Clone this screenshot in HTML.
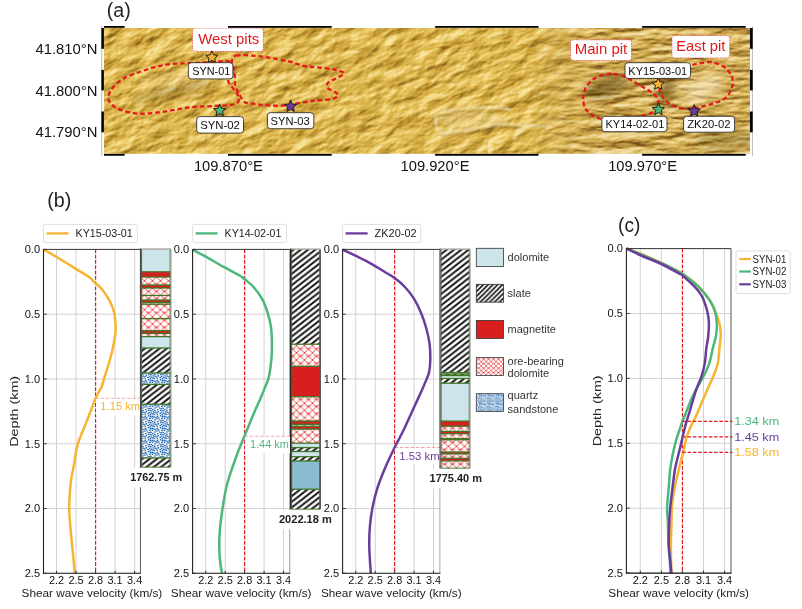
<!DOCTYPE html><html><head><meta charset="utf-8"><style>html,body{margin:0;padding:0;background:#fff;}body{width:802px;height:609px;overflow:hidden;}svg{display:block;font-family:"Liberation Sans", sans-serif;}</style></head><body>
<svg width="802" height="609" viewBox="0 0 802 609">
<defs>
<pattern id="slate" patternUnits="userSpaceOnUse" width="7.3" height="5.7"><rect width="7.3" height="5.7" fill="#fff"/><path d="M-7.3,5.7 L7.3,-5.7 M0,5.7 L7.3,0 M0,11.4 L14.6,0" stroke="#111" stroke-width="1.95"/></pattern>
<pattern id="slateL" patternUnits="userSpaceOnUse" width="4.8" height="4.8"><rect width="4.8" height="4.8" fill="#fff"/><path d="M-1.2,1.2 L1.2,-1.2 M0,4.8 L4.8,0 M3.6,6 L6,3.6" stroke="#111" stroke-width="1.55"/></pattern>
<pattern id="ore" patternUnits="userSpaceOnUse" width="8" height="7.2" x="0.5" y="0"><rect width="8" height="7.2" fill="#fff"/><path d="M0,0 L8,7.2 M8,0 L0,7.2" stroke="#e22b2b" stroke-width="0.8"/><path d="M1.2,3.6 Q4,1.2 6.8,3.6" fill="none" stroke="#e53a3a" stroke-width="0.55"/></pattern>
<pattern id="oreL" patternUnits="userSpaceOnUse" width="8" height="7.2" patternTransform="scale(0.62)"><rect width="8" height="7.2" fill="#fff"/><path d="M0,0 L8,7.2 M8,0 L0,7.2" stroke="#e22b2b" stroke-width="1"/><path d="M1.2,3.6 Q4,1.2 6.8,3.6" fill="none" stroke="#e53a3a" stroke-width="0.8"/></pattern>
<pattern id="qtz" patternUnits="userSpaceOnUse" width="12.0" height="12.0"><rect width="12.0" height="12.0" fill="#fff"/><rect x="3.89" y="1.81" width="1.68" height="1.3" fill="#2468b2"/><rect x="7.81" y="0.87" width="1.76" height="1.46" fill="#2468b2"/><rect x="6.43" y="4.39" width="1.52" height="1.39" fill="#2468b2"/><rect x="0.7" y="6.09" width="1.39" height="1.4" fill="#2468b2"/><rect x="0.84" y="1.09" width="1.69" height="1.22" fill="#2468b2"/><rect x="5.09" y="9.92" width="1.7" height="1.17" fill="#2468b2"/><rect x="10.3" y="3.48" width="1.88" height="1.37" fill="#2468b2"/><rect x="-1.7" y="3.48" width="1.88" height="1.37" fill="#2468b2"/><rect x="8.16" y="5.13" width="1.85" height="1.43" fill="#2468b2"/><rect x="3.77" y="7.03" width="1.43" height="1.47" fill="#2468b2"/><rect x="9.53" y="8.39" width="1.67" height="1.29" fill="#2468b2"/><rect x="0.47" y="8.02" width="1.72" height="1.48" fill="#2468b2"/><rect x="10.08" y="11.34" width="1.71" height="1.21" fill="#2468b2"/><rect x="10.08" y="-0.66" width="1.71" height="1.21" fill="#2468b2"/><rect x="5.69" y="7.97" width="1.88" height="1.55" fill="#2468b2"/><rect x="1.55" y="2.97" width="1.56" height="1.56" fill="#2468b2"/><rect x="3.34" y="4.98" width="1.9" height="1.27" fill="#2468b2"/><rect x="0.31" y="10.49" width="1.41" height="1.22" fill="#2468b2"/><rect x="6.34" y="11.74" width="1.59" height="1.17" fill="#2468b2"/><rect x="6.34" y="-0.26" width="1.59" height="1.17" fill="#2468b2"/><rect x="2" y="9.26" width="1.44" height="1.47" fill="#2468b2"/><rect x="10.09" y="5.75" width="1.31" height="1.41" fill="#2468b2"/><rect x="7.84" y="9.6" width="1.54" height="1.46" fill="#2468b2"/><rect x="10.08" y="1.65" width="1.46" height="1.34" fill="#2468b2"/><rect x="2.64" y="11.43" width="1.43" height="1.11" fill="#2468b2"/><rect x="2.64" y="-0.57" width="1.43" height="1.11" fill="#2468b2"/><rect x="6" y="2.13" width="1.82" height="1.28" fill="#2468b2"/><rect x="5.7" y="6.03" width="1.48" height="1.57" fill="#2468b2"/><rect x="0.03" y="4.26" width="1.52" height="1.37" fill="#2468b2"/><rect x="8.54" y="3.19" width="1.38" height="1.31" fill="#2468b2"/><rect x="7.64" y="7.63" width="1.83" height="1.51" fill="#2468b2"/><rect x="4.37" y="11.89" width="1.79" height="1.56" fill="#2468b2"/><rect x="4.37" y="-0.11" width="1.79" height="1.56" fill="#2468b2"/><rect x="4.71" y="3.75" width="1.44" height="1.13" fill="#2468b2"/><rect x="11.13" y="9.15" width="1.38" height="1.43" fill="#2468b2"/><rect x="-0.87" y="9.15" width="1.38" height="1.43" fill="#2468b2"/></pattern>
<pattern id="qtzL" patternUnits="userSpaceOnUse" width="12.0" height="12.0" patternTransform="scale(0.72)"><rect width="12.0" height="12.0" fill="#fff"/><rect x="3.89" y="1.81" width="1.68" height="1.3" fill="#2468b2"/><rect x="7.81" y="0.87" width="1.76" height="1.46" fill="#2468b2"/><rect x="6.43" y="4.39" width="1.52" height="1.39" fill="#2468b2"/><rect x="0.7" y="6.09" width="1.39" height="1.4" fill="#2468b2"/><rect x="0.84" y="1.09" width="1.69" height="1.22" fill="#2468b2"/><rect x="5.09" y="9.92" width="1.7" height="1.17" fill="#2468b2"/><rect x="10.3" y="3.48" width="1.88" height="1.37" fill="#2468b2"/><rect x="-1.7" y="3.48" width="1.88" height="1.37" fill="#2468b2"/><rect x="8.16" y="5.13" width="1.85" height="1.43" fill="#2468b2"/><rect x="3.77" y="7.03" width="1.43" height="1.47" fill="#2468b2"/><rect x="9.53" y="8.39" width="1.67" height="1.29" fill="#2468b2"/><rect x="0.47" y="8.02" width="1.72" height="1.48" fill="#2468b2"/><rect x="10.08" y="11.34" width="1.71" height="1.21" fill="#2468b2"/><rect x="10.08" y="-0.66" width="1.71" height="1.21" fill="#2468b2"/><rect x="5.69" y="7.97" width="1.88" height="1.55" fill="#2468b2"/><rect x="1.55" y="2.97" width="1.56" height="1.56" fill="#2468b2"/><rect x="3.34" y="4.98" width="1.9" height="1.27" fill="#2468b2"/><rect x="0.31" y="10.49" width="1.41" height="1.22" fill="#2468b2"/><rect x="6.34" y="11.74" width="1.59" height="1.17" fill="#2468b2"/><rect x="6.34" y="-0.26" width="1.59" height="1.17" fill="#2468b2"/><rect x="2" y="9.26" width="1.44" height="1.47" fill="#2468b2"/><rect x="10.09" y="5.75" width="1.31" height="1.41" fill="#2468b2"/><rect x="7.84" y="9.6" width="1.54" height="1.46" fill="#2468b2"/><rect x="10.08" y="1.65" width="1.46" height="1.34" fill="#2468b2"/><rect x="2.64" y="11.43" width="1.43" height="1.11" fill="#2468b2"/><rect x="2.64" y="-0.57" width="1.43" height="1.11" fill="#2468b2"/><rect x="6" y="2.13" width="1.82" height="1.28" fill="#2468b2"/><rect x="5.7" y="6.03" width="1.48" height="1.57" fill="#2468b2"/><rect x="0.03" y="4.26" width="1.52" height="1.37" fill="#2468b2"/><rect x="8.54" y="3.19" width="1.38" height="1.31" fill="#2468b2"/><rect x="7.64" y="7.63" width="1.83" height="1.51" fill="#2468b2"/><rect x="4.37" y="11.89" width="1.79" height="1.56" fill="#2468b2"/><rect x="4.37" y="-0.11" width="1.79" height="1.56" fill="#2468b2"/><rect x="4.71" y="3.75" width="1.44" height="1.13" fill="#2468b2"/><rect x="11.13" y="9.15" width="1.38" height="1.43" fill="#2468b2"/><rect x="-0.87" y="9.15" width="1.38" height="1.43" fill="#2468b2"/></pattern>
<filter id="reliefL" color-interpolation-filters="sRGB" filterUnits="userSpaceOnUse" x="-300" y="-300" width="1500" height="800" primitiveUnits="userSpaceOnUse">
<feTurbulence type="fractalNoise" baseFrequency="0.04 0.08" numOctaves="4" seed="11" result="n"/>
<feDiffuseLighting in="n" surfaceScale="3.6" lighting-color="#fff" diffuseConstant="1.0" result="l"><feDistantLight azimuth="250" elevation="40"/></feDiffuseLighting>
<feComponentTransfer in="l"><feFuncR type="table" tableValues="0.486 0.565 0.635 0.698 0.761 0.812 0.851 0.890 0.929 0.965 0.996"/><feFuncG type="table" tableValues="0.337 0.408 0.478 0.541 0.604 0.655 0.698 0.749 0.804 0.871 0.925"/><feFuncB type="table" tableValues="0.078 0.110 0.145 0.180 0.216 0.251 0.290 0.345 0.439 0.569 0.667"/><feFuncA type="identity"/></feComponentTransfer>
</filter>
<filter id="reliefM" color-interpolation-filters="sRGB" filterUnits="userSpaceOnUse" x="-300" y="-300" width="1500" height="800" primitiveUnits="userSpaceOnUse">
<feTurbulence type="fractalNoise" baseFrequency="0.05 0.1" numOctaves="4" seed="5" result="n"/>
<feDiffuseLighting in="n" surfaceScale="3.2" lighting-color="#fff" diffuseConstant="1.0" result="l"><feDistantLight azimuth="250" elevation="42"/></feDiffuseLighting>
<feComponentTransfer in="l"><feFuncR type="table" tableValues="0.478 0.557 0.627 0.690 0.753 0.804 0.843 0.882 0.922 0.957 0.988"/><feFuncG type="table" tableValues="0.329 0.400 0.471 0.533 0.596 0.647 0.690 0.741 0.796 0.863 0.918"/><feFuncB type="table" tableValues="0.118 0.149 0.184 0.220 0.255 0.290 0.329 0.384 0.478 0.608 0.706"/><feFuncA type="identity"/></feComponentTransfer>
</filter>
<filter id="reliefR" color-interpolation-filters="sRGB" filterUnits="userSpaceOnUse" x="-300" y="-300" width="1500" height="800" primitiveUnits="userSpaceOnUse">
<feTurbulence type="fractalNoise" baseFrequency="0.035 0.13" numOctaves="4" seed="23" result="n"/>
<feDiffuseLighting in="n" surfaceScale="3.6" lighting-color="#fff" diffuseConstant="1.0" result="l"><feDistantLight azimuth="250" elevation="38"/></feDiffuseLighting>
<feComponentTransfer in="l"><feFuncR type="table" tableValues="0.455 0.533 0.604 0.667 0.729 0.780 0.820 0.859 0.898 0.933 0.965"/><feFuncG type="table" tableValues="0.314 0.384 0.455 0.518 0.580 0.631 0.675 0.725 0.780 0.847 0.902"/><feFuncB type="table" tableValues="0.110 0.141 0.176 0.212 0.247 0.282 0.322 0.376 0.471 0.600 0.698"/><feFuncA type="identity"/></feComponentTransfer>
</filter>
<linearGradient id="gL" gradientUnits="userSpaceOnUse" x1="380" y1="0" x2="460" y2="0"><stop offset="0" stop-color="#fff"/><stop offset="1" stop-color="#000"/></linearGradient>
<linearGradient id="gR" gradientUnits="userSpaceOnUse" x1="530" y1="0" x2="590" y2="0"><stop offset="0" stop-color="#000"/><stop offset="1" stop-color="#fff"/></linearGradient>
<mask id="maskR" maskUnits="userSpaceOnUse" x="0" y="0" width="802" height="200"><rect x="0" y="0" width="802" height="200" fill="url(#gR)"/></mask>
<clipPath id="mapclip"><rect x="104" y="28" width="646" height="126"/></clipPath>
<filter id="blur4" x="-50%" y="-50%" width="200%" height="200%"><feGaussianBlur stdDeviation="4"/></filter>
<filter id="blur06" x="-20%" y="-20%" width="140%" height="140%"><feGaussianBlur stdDeviation="0.9"/></filter>
</defs>
<g clip-path="url(#mapclip)">
<rect x="104" y="28" width="646" height="126" fill="#d4ad55"/>
<g transform="rotate(-8 427 91)"><rect x="-60" y="-200" width="980" height="580" filter="url(#reliefM)"/></g>
<g mask="url(#maskL)"><g transform="rotate(-22 427 91)"><rect x="-60" y="-200" width="980" height="580" filter="url(#reliefL)"/></g></g>
<g mask="url(#maskR)"><g transform="rotate(-3 427 91)"><rect x="-60" y="-200" width="980" height="580" filter="url(#reliefR)"/></g></g>
<g filter="url(#blur4)"><ellipse cx="607" cy="87" rx="22" ry="9" transform="rotate(-15 607 87)" fill="#3e2c08" opacity="0.5"/><ellipse cx="667" cy="90" rx="7" ry="14" transform="rotate(20 667 90)" fill="#3e2c08" opacity="0.5"/><ellipse cx="703" cy="88" rx="22" ry="12" transform="rotate(-25 703 88)" fill="#fbecc6" opacity="0.55"/><ellipse cx="725" cy="140" rx="30" ry="10" fill="#3e2c08" opacity="0.25"/><ellipse cx="175" cy="91" rx="45" ry="5" transform="rotate(-12 175 91)" fill="#3e2c08" opacity="0.3"/><ellipse cx="172" cy="78" rx="35" ry="4" transform="rotate(-10 172 78)" fill="#fbecc6" opacity="0.35"/></g>
<g filter="url(#blur06)" fill="none" stroke-linecap="round"><ellipse cx="472" cy="120" rx="34" ry="8" fill="#f0dca6" stroke="none" opacity="0.35"/><path d="M437,130 L435,116 Q440,110 460,109 Q480,106.5 496,107.2 Q505,108 510,110" stroke="#f9ecc8" stroke-width="2.2" opacity="0.8"/><path d="M437,118 Q445,113 462,112 Q482,110 500,110.5" stroke="#8a6a2a" stroke-width="1.4" opacity="0.35"/><path d="M440,133 Q470,130 486,126 Q500,122.5 520,125 L534,125" stroke="#f9ecc8" stroke-width="2" opacity="0.75"/><path d="M441,135.5 Q470,133 487,129 Q502,126 520,128" stroke="#7a5a20" stroke-width="1.6" opacity="0.5"/><path d="M514,139 Q516,131 528,127 Q540,124.5 552,127" stroke="#f9ecc8" stroke-width="2" opacity="0.75"/><path d="M517,141 Q520,134 530,130" stroke="#7a5a20" stroke-width="1.4" opacity="0.4"/><path d="M489.5,141 L489.5,154" stroke="#fbf0d0" stroke-width="3" opacity="0.75"/></g>
</g>
<path d="M229.8,61.6 C227.6,59.9 221.67,61.55 215,61.8 C208.33,62.05 197.13,62.73 189.8,63.1 C182.47,63.47 176.63,63.38 171,64 C165.37,64.62 161,65.55 156,66.8 C151,68.05 146.28,69.63 141,71.5 C135.72,73.37 128.97,75.35 124.3,78 C119.63,80.65 115.65,84.27 113,87.4 C110.35,90.53 108.7,94 108.4,96.8 C108.1,99.6 109.17,102.03 111.2,104.2 C113.23,106.37 116.23,108.23 120.6,109.8 C124.97,111.37 131.5,113.12 137.4,113.6 C143.3,114.08 149.77,113.33 156,112.7 C162.23,112.07 168.55,110.75 174.8,109.8 C181.05,108.85 187.27,107.62 193.5,107 C199.73,106.38 205.95,106.45 212.2,106.1 C218.45,105.75 226.78,105.5 231,104.9 C235.22,104.3 236.17,103.57 237.5,102.5 C238.83,101.43 239.05,99.92 239,98.5 C238.95,97.08 238.07,95.52 237.2,94 C236.33,92.48 235.28,91.52 233.8,89.4 C232.32,87.28 229.23,84.2 228.3,81.3 C227.37,78.4 227.95,75.28 228.2,72 C228.45,68.72 232,63.3 229.8,61.6Z" fill="none" stroke="#e3191c" stroke-width="2.3" stroke-dasharray="4.6 2.9"/>
<path d="M236,55.6 C239.83,54.73 248.83,55.38 254.9,55.8 C260.97,56.22 266.58,57.13 272.4,58.1 C278.22,59.07 284.57,60.28 289.8,61.6 C295.03,62.92 299.15,65.05 303.8,66 C308.45,66.95 312.77,66.73 317.7,67.3 C322.63,67.87 329.03,68.47 333.4,69.4 C337.77,70.33 343.02,71.58 343.9,72.9 C344.78,74.22 341.32,75.7 338.7,77.3 C336.08,78.9 330.1,80.75 328.2,82.5 C326.3,84.25 326.13,86.2 327.3,87.8 C328.47,89.4 333.45,90.8 335.2,92.1 C336.95,93.4 338.38,94.43 337.8,95.6 C337.22,96.77 335.63,98.23 331.7,99.1 C327.77,99.97 320.02,100.07 314.2,100.8 C308.38,101.53 300.87,102.77 296.8,103.5 C292.73,104.23 293.87,104.83 289.8,105.2 C285.73,105.57 278.3,105.92 272.4,105.7 C266.5,105.48 258.35,104.32 254.4,103.9 C250.45,103.48 250.22,103.42 248.7,103.2 C247.18,102.98 246.35,103.18 245.3,102.6 C244.25,102.02 243.27,100.85 242.4,99.7 C241.53,98.55 240.97,97.23 240.1,95.7 C239.23,94.17 238.02,92.23 237.2,90.5 C236.38,88.77 235.62,87.88 235.2,85.3 C234.78,82.72 235.03,78.05 234.7,75 C234.37,71.95 233.67,69.33 233.2,67 C232.73,64.67 231.43,62.9 231.9,61 C232.37,59.1 232.17,56.47 236,55.6Z" fill="none" stroke="#e3191c" stroke-width="2.3" stroke-dasharray="4.6 2.9"/>
<path d="M583.2,99.2 C583.03,96.28 583.27,93.73 584.3,91 C585.33,88.27 587.18,85.2 589.4,82.8 C591.62,80.4 594.52,78.08 597.6,76.6 C600.68,75.12 604.47,74.25 607.9,73.9 C611.33,73.55 614.77,73.7 618.2,74.5 C621.63,75.3 624.73,76.8 628.5,78.7 C632.27,80.6 637.03,83.68 640.8,85.9 C644.57,88.12 648.35,89.95 651.1,92 C653.85,94.05 656.07,96.13 657.3,98.2 C658.53,100.27 658.72,102.27 658.5,104.4 C658.28,106.53 659.08,108.98 656,111 C652.92,113.02 646,115.17 640,116.5 C634,117.83 626.38,118.62 620,119 C613.62,119.38 606.45,119.52 601.7,118.8 C596.95,118.08 594.23,116.42 591.5,114.7 C588.77,112.98 586.68,111.08 585.3,108.5 C583.92,105.92 583.37,102.12 583.2,99.2Z" fill="none" stroke="#e3191c" stroke-width="2.3" stroke-dasharray="4.6 2.9"/>
<path d="M659.4,87.9 C659.47,90.75 660.03,92.7 661.4,95.1 C662.77,97.5 664.85,100.23 667.6,102.3 C670.35,104.37 674.13,106.4 677.9,107.5 C681.67,108.6 686.08,109.08 690.2,108.9 C694.32,108.72 698.13,107.5 702.6,106.4 C707.07,105.3 712.88,104 717,102.3 C721.12,100.6 724.73,98.93 727.3,96.2 C729.87,93.47 731.72,89.33 732.4,85.9 C733.08,82.47 732.95,78.87 731.4,75.6 C729.85,72.33 726.53,68.53 723.1,66.3 C719.67,64.07 714.9,62.65 710.8,62.2 C706.7,61.75 701.93,63.08 698.5,63.6 C695.07,64.12 692.95,64.68 690.2,65.3 C687.45,65.92 685.37,66.35 682,67.3 C678.63,68.25 673.5,69.22 670,71 C666.5,72.78 662.77,75.18 661,78 C659.23,80.82 659.33,85.05 659.4,87.9Z" fill="none" stroke="#e3191c" stroke-width="2.3" stroke-dasharray="4.6 2.9"/>
<rect x="192.5" y="28.1" width="70.8" height="23.3" rx="3" fill="#fff" stroke="#e3191c" stroke-width="0.6" stroke-dasharray="1.5 1"/>
<text x="198.3" y="44.2" font-size="14.5" text-anchor="start" fill="#e3191c" font-weight="normal" textLength="60.9" lengthAdjust="spacingAndGlyphs">West pits</text>
<rect x="570.5" y="39.8" width="61" height="20.7" rx="3" fill="#fff" stroke="#e3191c" stroke-width="0.6" stroke-dasharray="1.5 1"/>
<text x="574.8" y="54.4" font-size="14.5" text-anchor="start" fill="#e3191c" font-weight="normal" textLength="52.4" lengthAdjust="spacingAndGlyphs">Main pit</text>
<rect x="671.9" y="35.5" width="57.8" height="22.4" rx="3" fill="#fff" stroke="#e3191c" stroke-width="0.6" stroke-dasharray="1.5 1"/>
<text x="676.3" y="50.7" font-size="14.5" text-anchor="start" fill="#e3191c" font-weight="normal" textLength="49.1" lengthAdjust="spacingAndGlyphs">East pit</text>
<path d="M211.8,50.9 L213.53,54.92 L217.89,55.32 L214.6,58.21 L215.56,62.48 L211.8,60.24 L208.04,62.48 L209,58.21 L205.71,55.32 L210.07,54.92Z" fill="#f5b431" stroke="#111" stroke-width="0.9" stroke-linejoin="miter"/>
<path d="M219.7,104.2 L221.43,108.22 L225.79,108.62 L222.5,111.51 L223.46,115.78 L219.7,113.54 L215.94,115.78 L216.9,111.51 L213.61,108.62 L217.97,108.22Z" fill="#4cb77c" stroke="#111" stroke-width="0.9" stroke-linejoin="miter"/>
<path d="M290.6,100 L292.33,104.02 L296.69,104.42 L293.4,107.31 L294.36,111.58 L290.6,109.34 L286.84,111.58 L287.8,107.31 L284.51,104.42 L288.87,104.02Z" fill="#6a3d9c" stroke="#111" stroke-width="0.9" stroke-linejoin="miter"/>
<path d="M658.2,77.9 L659.93,81.92 L664.29,82.32 L661,85.21 L661.96,89.48 L658.2,87.24 L654.44,89.48 L655.4,85.21 L652.11,82.32 L656.47,81.92Z" fill="#f5b431" stroke="#111" stroke-width="0.9" stroke-linejoin="miter"/>
<path d="M658.4,103.2 L660.13,107.22 L664.49,107.62 L661.2,110.51 L662.16,114.78 L658.4,112.54 L654.64,114.78 L655.6,110.51 L652.31,107.62 L656.67,107.22Z" fill="#4cb77c" stroke="#111" stroke-width="0.9" stroke-linejoin="miter"/>
<path d="M694.2,104.6 L695.93,108.62 L700.29,109.02 L697,111.91 L697.96,116.18 L694.2,113.94 L690.44,116.18 L691.4,111.91 L688.11,109.02 L692.47,108.62Z" fill="#6a3d9c" stroke="#111" stroke-width="0.9" stroke-linejoin="miter"/>
<rect x="188.4" y="62.7" width="44.5" height="16.2" rx="3" fill="#fff" stroke="#1a1a1a" stroke-width="0.8"/>
<text x="192.2" y="74.8" font-size="11.8" text-anchor="start" fill="#111" font-weight="normal" textLength="38.1" lengthAdjust="spacingAndGlyphs">SYN-01</text>
<rect x="196.7" y="116.6" width="46.8" height="16.5" rx="3" fill="#fff" stroke="#1a1a1a" stroke-width="0.8"/>
<text x="200.2" y="129.2" font-size="11.8" text-anchor="start" fill="#111" font-weight="normal" textLength="39.7" lengthAdjust="spacingAndGlyphs">SYN-02</text>
<rect x="267.4" y="112.7" width="46.4" height="16" rx="3" fill="#fff" stroke="#1a1a1a" stroke-width="0.8"/>
<text x="270.6" y="125" font-size="11.8" text-anchor="start" fill="#111" font-weight="normal" textLength="39.2" lengthAdjust="spacingAndGlyphs">SYN-03</text>
<rect x="625" y="62.7" width="65.5" height="15.7" rx="3" fill="#fff" stroke="#1a1a1a" stroke-width="0.8"/>
<text x="628.3" y="74.7" font-size="11.8" text-anchor="start" fill="#111" font-weight="normal" textLength="58.9" lengthAdjust="spacingAndGlyphs">KY15-03-01</text>
<rect x="601.9" y="116.3" width="65.1" height="15.4" rx="3" fill="#fff" stroke="#1a1a1a" stroke-width="0.8"/>
<text x="605.5" y="127.7" font-size="11.8" text-anchor="start" fill="#111" font-weight="normal" textLength="58.8" lengthAdjust="spacingAndGlyphs">KY14-02-01</text>
<rect x="683.6" y="116.3" width="51" height="15.9" rx="3" fill="#fff" stroke="#1a1a1a" stroke-width="0.8"/>
<text x="687.2" y="127.9" font-size="11.8" text-anchor="start" fill="#111" font-weight="normal" textLength="43.4" lengthAdjust="spacingAndGlyphs">ZK20-02</text>
<g>
<rect x="101.4" y="25.9" width="651.3" height="2.1" fill="#fff"/>
<rect x="101.4" y="153.8" width="651.3" height="2.1" fill="#fff"/>
<rect x="101.4" y="25.9" width="2.6" height="130" fill="#fff"/>
<rect x="750" y="25.9" width="2.7" height="130" fill="#fff"/>
<line x1="101.8" y1="26" x2="101.8" y2="155.9" stroke="#9a9a9a" stroke-width="0.7"/>
<line x1="752.4" y1="26" x2="752.4" y2="155.9" stroke="#9a9a9a" stroke-width="0.7"/>
<rect x="104" y="26" width="20.6" height="1.8" fill="#000"/>
<rect x="104" y="153.9" width="20.6" height="1.85" fill="#000"/>
<rect x="228" y="26" width="103.7" height="1.8" fill="#000"/>
<rect x="228" y="153.9" width="103.7" height="1.85" fill="#000"/>
<rect x="435.1" y="26" width="103.4" height="1.8" fill="#000"/>
<rect x="435.1" y="153.9" width="103.4" height="1.85" fill="#000"/>
<rect x="642.1" y="26" width="103.6" height="1.8" fill="#000"/>
<rect x="642.1" y="153.9" width="103.6" height="1.85" fill="#000"/>
<rect x="101.4" y="28" width="2.5" height="20.8" fill="#000"/>
<rect x="750" y="28" width="2.7" height="20.8" fill="#000"/>
<rect x="101.4" y="69.9" width="2.5" height="20.5" fill="#000"/>
<rect x="750" y="69.9" width="2.7" height="20.5" fill="#000"/>
<rect x="101.4" y="111.5" width="2.5" height="20.8" fill="#000"/>
<rect x="750" y="111.5" width="2.7" height="20.8" fill="#000"/>
</g>
<text x="97.5" y="54.2" font-size="14" text-anchor="end" fill="#111" font-weight="normal" textLength="62" lengthAdjust="spacingAndGlyphs">41.810°N</text>
<text x="97.5" y="95.7" font-size="14" text-anchor="end" fill="#111" font-weight="normal" textLength="62" lengthAdjust="spacingAndGlyphs">41.800°N</text>
<text x="97.5" y="137.1" font-size="14" text-anchor="end" fill="#111" font-weight="normal" textLength="62" lengthAdjust="spacingAndGlyphs">41.790°N</text>
<text x="228.4" y="170.6" font-size="14.3" text-anchor="middle" fill="#111" font-weight="normal" textLength="68.9" lengthAdjust="spacingAndGlyphs">109.870°E</text>
<text x="435" y="170.6" font-size="14.3" text-anchor="middle" fill="#111" font-weight="normal" textLength="68.9" lengthAdjust="spacingAndGlyphs">109.920°E</text>
<text x="642.6" y="170.6" font-size="14.3" text-anchor="middle" fill="#111" font-weight="normal" textLength="68.9" lengthAdjust="spacingAndGlyphs">109.970°E</text>
<text x="106.8" y="16.8" font-size="19.5" text-anchor="start" fill="#231f20" font-weight="normal" textLength="24" lengthAdjust="spacingAndGlyphs">(a)</text>
<text x="47.3" y="206.6" font-size="19.5" text-anchor="start" fill="#231f20" font-weight="normal" textLength="24.1" lengthAdjust="spacingAndGlyphs">(b)</text>
<text x="618.1" y="231.9" font-size="19.5" text-anchor="start" fill="#231f20" font-weight="normal" textLength="22.3" lengthAdjust="spacingAndGlyphs">(c)</text>
<line x1="56.52" y1="249.4" x2="56.52" y2="573.3" stroke="#d2d2d2" stroke-width="1"/>
<line x1="76.05" y1="249.4" x2="76.05" y2="573.3" stroke="#d2d2d2" stroke-width="1"/>
<line x1="115.11" y1="249.4" x2="115.11" y2="573.3" stroke="#d2d2d2" stroke-width="1"/>
<line x1="134.64" y1="249.4" x2="134.64" y2="573.3" stroke="#d2d2d2" stroke-width="1"/>
<line x1="43.5" y1="314.18" x2="140.4" y2="314.18" stroke="#d2d2d2" stroke-width="1"/>
<line x1="43.5" y1="378.96" x2="140.4" y2="378.96" stroke="#d2d2d2" stroke-width="1"/>
<line x1="43.5" y1="443.74" x2="140.4" y2="443.74" stroke="#d2d2d2" stroke-width="1"/>
<line x1="43.5" y1="508.52" x2="140.4" y2="508.52" stroke="#d2d2d2" stroke-width="1"/>
<line x1="95.58" y1="249.4" x2="95.58" y2="573.3" stroke="#e3191c" stroke-width="1.2" stroke-dasharray="3.8 1.5"/>
<line x1="205.76" y1="249.4" x2="205.76" y2="573.3" stroke="#d2d2d2" stroke-width="1"/>
<line x1="225.2" y1="249.4" x2="225.2" y2="573.3" stroke="#d2d2d2" stroke-width="1"/>
<line x1="264.08" y1="249.4" x2="264.08" y2="573.3" stroke="#d2d2d2" stroke-width="1"/>
<line x1="283.52" y1="249.4" x2="283.52" y2="573.3" stroke="#d2d2d2" stroke-width="1"/>
<line x1="192.6" y1="314.18" x2="289.7" y2="314.18" stroke="#d2d2d2" stroke-width="1"/>
<line x1="192.6" y1="378.96" x2="289.7" y2="378.96" stroke="#d2d2d2" stroke-width="1"/>
<line x1="192.6" y1="443.74" x2="289.7" y2="443.74" stroke="#d2d2d2" stroke-width="1"/>
<line x1="192.6" y1="508.52" x2="289.7" y2="508.52" stroke="#d2d2d2" stroke-width="1"/>
<line x1="244.64" y1="249.4" x2="244.64" y2="573.3" stroke="#e3191c" stroke-width="1.2" stroke-dasharray="3.8 1.5"/>
<line x1="355.76" y1="249.4" x2="355.76" y2="573.3" stroke="#d2d2d2" stroke-width="1"/>
<line x1="375.2" y1="249.4" x2="375.2" y2="573.3" stroke="#d2d2d2" stroke-width="1"/>
<line x1="414.08" y1="249.4" x2="414.08" y2="573.3" stroke="#d2d2d2" stroke-width="1"/>
<line x1="433.52" y1="249.4" x2="433.52" y2="573.3" stroke="#d2d2d2" stroke-width="1"/>
<line x1="342.6" y1="314.18" x2="439.9" y2="314.18" stroke="#d2d2d2" stroke-width="1"/>
<line x1="342.6" y1="378.96" x2="439.9" y2="378.96" stroke="#d2d2d2" stroke-width="1"/>
<line x1="342.6" y1="443.74" x2="439.9" y2="443.74" stroke="#d2d2d2" stroke-width="1"/>
<line x1="342.6" y1="508.52" x2="439.9" y2="508.52" stroke="#d2d2d2" stroke-width="1"/>
<line x1="394.64" y1="249.4" x2="394.64" y2="573.3" stroke="#e3191c" stroke-width="1.2" stroke-dasharray="3.8 1.5"/>
<line x1="95.4" y1="398.3" x2="141.3" y2="398.3" stroke="#f3a0a0" stroke-width="1" stroke-dasharray="3.5 1.8"/>
<line x1="244.4" y1="436.3" x2="290.5" y2="436.3" stroke="#f3a0a0" stroke-width="1" stroke-dasharray="3.5 1.8"/>
<line x1="394.7" y1="447.5" x2="440.2" y2="447.5" stroke="#f3a0a0" stroke-width="1" stroke-dasharray="3.5 1.8"/>
<path d="M43.7,249.6 C45.78,250.8 50.9,253.63 56.2,256.8 C61.5,259.97 70.08,265.27 75.5,268.6 C80.92,271.93 85.38,274.38 88.7,276.8 C92.02,279.22 93.18,281.02 95.4,283.1 C97.62,285.18 99.67,286.42 102,289.3 C104.33,292.18 107.42,296.7 109.4,300.4 C111.38,304.1 112.92,307.93 113.9,311.5 C114.88,315.07 115.02,318.55 115.3,321.8 C115.58,325.05 115.98,326.77 115.6,331 C115.22,335.23 114.05,342.03 113,347.2 C111.95,352.37 110.7,357.07 109.3,362 C107.9,366.93 105.88,372.68 104.6,376.8 C103.32,380.92 103.1,383.12 101.6,386.7 C100.1,390.28 97.43,394.2 95.6,398.3 C93.77,402.4 92.37,406.77 90.6,411.3 C88.83,415.83 86.82,420.98 85,425.5 C83.18,430.02 81.08,434.62 79.7,438.4 C78.32,442.18 77.6,444.1 76.7,448.2 C75.8,452.3 75.23,457.7 74.3,463 C73.37,468.3 71.92,473.75 71.1,480 C70.28,486.25 69.7,495.12 69.4,500.5 C69.1,505.88 69.05,506.88 69.3,512.3 C69.55,517.72 70.23,525.6 70.9,533 C71.57,540.4 72.65,549.98 73.3,556.7 C73.95,563.42 74.55,570.53 74.8,573.3" fill="none" stroke="#f5b431" stroke-width="2.5" stroke-linejoin="round" stroke-linecap="butt"/>
<line x1="43.5" y1="249.4" x2="140.4" y2="249.4" stroke="#333" stroke-width="1"/>
<line x1="140.4" y1="249.4" x2="140.4" y2="573.3" stroke="#555" stroke-width="1"/>
<line x1="43.5" y1="248.9" x2="43.5" y2="573.8" stroke="#222" stroke-width="1.1"/>
<line x1="43.0" y1="573.3" x2="140.9" y2="573.3" stroke="#111" stroke-width="1.1"/>
<line x1="56.52" y1="573.3" x2="56.52" y2="570.7" stroke="#222" stroke-width="0.9"/>
<text x="56.52" y="583.9" font-size="10.5" text-anchor="middle" fill="#111" font-weight="normal" textLength="15.2" lengthAdjust="spacingAndGlyphs">2.2</text>
<line x1="76.05" y1="573.3" x2="76.05" y2="570.7" stroke="#222" stroke-width="0.9"/>
<text x="76.05" y="583.9" font-size="10.5" text-anchor="middle" fill="#111" font-weight="normal" textLength="15.2" lengthAdjust="spacingAndGlyphs">2.5</text>
<line x1="95.58" y1="573.3" x2="95.58" y2="570.7" stroke="#222" stroke-width="0.9"/>
<text x="95.58" y="583.9" font-size="10.5" text-anchor="middle" fill="#111" font-weight="normal" textLength="15.2" lengthAdjust="spacingAndGlyphs">2.8</text>
<line x1="115.11" y1="573.3" x2="115.11" y2="570.7" stroke="#222" stroke-width="0.9"/>
<text x="115.11" y="583.9" font-size="10.5" text-anchor="middle" fill="#111" font-weight="normal" textLength="15.2" lengthAdjust="spacingAndGlyphs">3.1</text>
<line x1="134.64" y1="573.3" x2="134.64" y2="570.7" stroke="#222" stroke-width="0.9"/>
<text x="134.64" y="583.9" font-size="10.5" text-anchor="middle" fill="#111" font-weight="normal" textLength="15.2" lengthAdjust="spacingAndGlyphs">3.4</text>
<line x1="43.5" y1="249.4" x2="46.9" y2="249.4" stroke="#333" stroke-width="0.9"/>
<text x="40.1" y="253.2" font-size="10.5" text-anchor="end" fill="#111" font-weight="normal" textLength="15.4" lengthAdjust="spacingAndGlyphs">0.0</text>
<line x1="43.5" y1="314.18" x2="46.9" y2="314.18" stroke="#333" stroke-width="0.9"/>
<text x="40.1" y="317.98" font-size="10.5" text-anchor="end" fill="#111" font-weight="normal" textLength="15.4" lengthAdjust="spacingAndGlyphs">0.5</text>
<line x1="43.5" y1="378.96" x2="46.9" y2="378.96" stroke="#333" stroke-width="0.9"/>
<text x="40.1" y="382.76" font-size="10.5" text-anchor="end" fill="#111" font-weight="normal" textLength="15.4" lengthAdjust="spacingAndGlyphs">1.0</text>
<line x1="43.5" y1="443.74" x2="46.9" y2="443.74" stroke="#333" stroke-width="0.9"/>
<text x="40.1" y="447.54" font-size="10.5" text-anchor="end" fill="#111" font-weight="normal" textLength="15.4" lengthAdjust="spacingAndGlyphs">1.5</text>
<line x1="43.5" y1="508.52" x2="46.9" y2="508.52" stroke="#333" stroke-width="0.9"/>
<text x="40.1" y="512.32" font-size="10.5" text-anchor="end" fill="#111" font-weight="normal" textLength="15.4" lengthAdjust="spacingAndGlyphs">2.0</text>
<line x1="43.5" y1="573.3" x2="46.9" y2="573.3" stroke="#333" stroke-width="0.9"/>
<text x="40.1" y="577.1" font-size="10.5" text-anchor="end" fill="#111" font-weight="normal" textLength="15.4" lengthAdjust="spacingAndGlyphs">2.5</text>
<text x="91.95" y="596.9" font-size="10" text-anchor="middle" fill="#222" font-weight="normal" textLength="140.7" lengthAdjust="spacingAndGlyphs">Shear wave velocity (km/s)</text>
<text x="17.7" y="411.35" font-size="10" text-anchor="middle" fill="#222" transform="rotate(-90 17.7 411.35)" textLength="71" lengthAdjust="spacingAndGlyphs">Depth (km)</text>
<path d="M192.5,249.6 C194.63,250.73 200.2,253.57 205.3,256.4 C210.4,259.23 217.38,263.42 223.1,266.6 C228.82,269.78 236,273.38 239.6,275.5 C243.2,277.62 242.37,277.38 244.7,279.3 C247.03,281.22 250.63,283.6 253.6,287 C256.57,290.4 260.18,295.47 262.5,299.7 C264.82,303.93 266.1,307.95 267.5,312.4 C268.9,316.85 270.17,321.53 270.9,326.4 C271.63,331.27 271.82,336.1 271.9,341.6 C271.98,347.1 271.92,353.47 271.4,359.4 C270.88,365.33 269.87,372.53 268.8,377.2 C267.73,381.87 266.48,383.63 265,387.4 C263.52,391.17 261.77,395.47 259.9,399.8 C258.03,404.13 256.38,407.32 253.8,413.4 C251.22,419.48 247.27,429.27 244.4,436.3 C241.53,443.33 239.47,447.68 236.6,455.6 C233.73,463.52 229.55,474.93 227.2,483.8 C224.85,492.67 223.77,500.47 222.5,508.8 C221.23,517.13 220.08,526 219.6,533.8 C219.12,541.6 219.22,549.02 219.6,555.6 C219.98,562.18 221.52,570.35 221.9,573.3" fill="none" stroke="#4cb77c" stroke-width="2.5" stroke-linejoin="round" stroke-linecap="butt"/>
<line x1="192.6" y1="249.4" x2="289.7" y2="249.4" stroke="#333" stroke-width="1"/>
<line x1="289.7" y1="249.4" x2="289.7" y2="573.3" stroke="#9a9a9a" stroke-width="1"/>
<line x1="192.6" y1="248.9" x2="192.6" y2="573.8" stroke="#222" stroke-width="1.1"/>
<line x1="192.1" y1="573.3" x2="290.2" y2="573.3" stroke="#111" stroke-width="1.1"/>
<line x1="205.76" y1="573.3" x2="205.76" y2="570.7" stroke="#222" stroke-width="0.9"/>
<text x="205.76" y="583.9" font-size="10.5" text-anchor="middle" fill="#111" font-weight="normal" textLength="15.2" lengthAdjust="spacingAndGlyphs">2.2</text>
<line x1="225.2" y1="573.3" x2="225.2" y2="570.7" stroke="#222" stroke-width="0.9"/>
<text x="225.2" y="583.9" font-size="10.5" text-anchor="middle" fill="#111" font-weight="normal" textLength="15.2" lengthAdjust="spacingAndGlyphs">2.5</text>
<line x1="244.64" y1="573.3" x2="244.64" y2="570.7" stroke="#222" stroke-width="0.9"/>
<text x="244.64" y="583.9" font-size="10.5" text-anchor="middle" fill="#111" font-weight="normal" textLength="15.2" lengthAdjust="spacingAndGlyphs">2.8</text>
<line x1="264.08" y1="573.3" x2="264.08" y2="570.7" stroke="#222" stroke-width="0.9"/>
<text x="264.08" y="583.9" font-size="10.5" text-anchor="middle" fill="#111" font-weight="normal" textLength="15.2" lengthAdjust="spacingAndGlyphs">3.1</text>
<line x1="283.52" y1="573.3" x2="283.52" y2="570.7" stroke="#222" stroke-width="0.9"/>
<text x="283.52" y="583.9" font-size="10.5" text-anchor="middle" fill="#111" font-weight="normal" textLength="15.2" lengthAdjust="spacingAndGlyphs">3.4</text>
<line x1="192.6" y1="249.4" x2="196" y2="249.4" stroke="#333" stroke-width="0.9"/>
<text x="189.2" y="253.2" font-size="10.5" text-anchor="end" fill="#111" font-weight="normal" textLength="15.4" lengthAdjust="spacingAndGlyphs">0.0</text>
<line x1="192.6" y1="314.18" x2="196" y2="314.18" stroke="#333" stroke-width="0.9"/>
<text x="189.2" y="317.98" font-size="10.5" text-anchor="end" fill="#111" font-weight="normal" textLength="15.4" lengthAdjust="spacingAndGlyphs">0.5</text>
<line x1="192.6" y1="378.96" x2="196" y2="378.96" stroke="#333" stroke-width="0.9"/>
<text x="189.2" y="382.76" font-size="10.5" text-anchor="end" fill="#111" font-weight="normal" textLength="15.4" lengthAdjust="spacingAndGlyphs">1.0</text>
<line x1="192.6" y1="443.74" x2="196" y2="443.74" stroke="#333" stroke-width="0.9"/>
<text x="189.2" y="447.54" font-size="10.5" text-anchor="end" fill="#111" font-weight="normal" textLength="15.4" lengthAdjust="spacingAndGlyphs">1.5</text>
<line x1="192.6" y1="508.52" x2="196" y2="508.52" stroke="#333" stroke-width="0.9"/>
<text x="189.2" y="512.32" font-size="10.5" text-anchor="end" fill="#111" font-weight="normal" textLength="15.4" lengthAdjust="spacingAndGlyphs">2.0</text>
<line x1="192.6" y1="573.3" x2="196" y2="573.3" stroke="#333" stroke-width="0.9"/>
<text x="189.2" y="577.1" font-size="10.5" text-anchor="end" fill="#111" font-weight="normal" textLength="15.4" lengthAdjust="spacingAndGlyphs">2.5</text>
<text x="241.15" y="596.9" font-size="10" text-anchor="middle" fill="#222" font-weight="normal" textLength="140.7" lengthAdjust="spacingAndGlyphs">Shear wave velocity (km/s)</text>
<path d="M342.5,249.6 C344.63,250.62 350.63,253.42 355.3,255.7 C359.97,257.98 365.63,260.63 370.5,263.3 C375.37,265.97 380.47,269.23 384.5,271.7 C388.53,274.17 391.3,275.55 394.7,278.1 C398.1,280.65 401.72,283.62 404.9,287 C408.08,290.38 411.05,293.95 413.8,298.4 C416.55,302.85 419.28,308.6 421.4,313.7 C423.52,318.8 425.13,323.92 426.5,329 C427.87,334.08 428.97,339.12 429.6,344.2 C430.23,349.28 430.38,354.83 430.3,359.5 C430.22,364.17 429.95,368.38 429.1,372.2 C428.25,376.02 426.48,379.22 425.2,382.4 C423.92,385.58 423.08,387.53 421.4,391.3 C419.72,395.07 418.07,398.55 415.1,405 C412.13,411.45 407,422.95 403.6,430 C400.2,437.05 397.72,441.13 394.7,447.3 C391.68,453.47 388.4,460.15 385.5,467 C382.6,473.85 379.48,481.55 377.3,488.4 C375.12,495.25 373.65,501.53 372.4,508.1 C371.15,514.67 370.32,521.23 369.8,527.8 C369.28,534.37 369.13,539.92 369.3,547.5 C369.47,555.08 370.55,569 370.8,573.3" fill="none" stroke="#6a3d9c" stroke-width="2.5" stroke-linejoin="round" stroke-linecap="butt"/>
<line x1="342.6" y1="249.4" x2="439.9" y2="249.4" stroke="#333" stroke-width="1"/>
<line x1="439.9" y1="249.4" x2="439.9" y2="573.3" stroke="#a8a8a8" stroke-width="1"/>
<line x1="342.6" y1="248.9" x2="342.6" y2="573.8" stroke="#222" stroke-width="1.1"/>
<line x1="342.1" y1="573.3" x2="440.4" y2="573.3" stroke="#111" stroke-width="1.1"/>
<line x1="355.76" y1="573.3" x2="355.76" y2="570.7" stroke="#222" stroke-width="0.9"/>
<text x="355.76" y="583.9" font-size="10.5" text-anchor="middle" fill="#111" font-weight="normal" textLength="15.2" lengthAdjust="spacingAndGlyphs">2.2</text>
<line x1="375.2" y1="573.3" x2="375.2" y2="570.7" stroke="#222" stroke-width="0.9"/>
<text x="375.2" y="583.9" font-size="10.5" text-anchor="middle" fill="#111" font-weight="normal" textLength="15.2" lengthAdjust="spacingAndGlyphs">2.5</text>
<line x1="394.64" y1="573.3" x2="394.64" y2="570.7" stroke="#222" stroke-width="0.9"/>
<text x="394.64" y="583.9" font-size="10.5" text-anchor="middle" fill="#111" font-weight="normal" textLength="15.2" lengthAdjust="spacingAndGlyphs">2.8</text>
<line x1="414.08" y1="573.3" x2="414.08" y2="570.7" stroke="#222" stroke-width="0.9"/>
<text x="414.08" y="583.9" font-size="10.5" text-anchor="middle" fill="#111" font-weight="normal" textLength="15.2" lengthAdjust="spacingAndGlyphs">3.1</text>
<line x1="433.52" y1="573.3" x2="433.52" y2="570.7" stroke="#222" stroke-width="0.9"/>
<text x="433.52" y="583.9" font-size="10.5" text-anchor="middle" fill="#111" font-weight="normal" textLength="15.2" lengthAdjust="spacingAndGlyphs">3.4</text>
<line x1="342.6" y1="249.4" x2="346" y2="249.4" stroke="#333" stroke-width="0.9"/>
<text x="339.2" y="253.2" font-size="10.5" text-anchor="end" fill="#111" font-weight="normal" textLength="15.4" lengthAdjust="spacingAndGlyphs">0.0</text>
<line x1="342.6" y1="314.18" x2="346" y2="314.18" stroke="#333" stroke-width="0.9"/>
<text x="339.2" y="317.98" font-size="10.5" text-anchor="end" fill="#111" font-weight="normal" textLength="15.4" lengthAdjust="spacingAndGlyphs">0.5</text>
<line x1="342.6" y1="378.96" x2="346" y2="378.96" stroke="#333" stroke-width="0.9"/>
<text x="339.2" y="382.76" font-size="10.5" text-anchor="end" fill="#111" font-weight="normal" textLength="15.4" lengthAdjust="spacingAndGlyphs">1.0</text>
<line x1="342.6" y1="443.74" x2="346" y2="443.74" stroke="#333" stroke-width="0.9"/>
<text x="339.2" y="447.54" font-size="10.5" text-anchor="end" fill="#111" font-weight="normal" textLength="15.4" lengthAdjust="spacingAndGlyphs">1.5</text>
<line x1="342.6" y1="508.52" x2="346" y2="508.52" stroke="#333" stroke-width="0.9"/>
<text x="339.2" y="512.32" font-size="10.5" text-anchor="end" fill="#111" font-weight="normal" textLength="15.4" lengthAdjust="spacingAndGlyphs">2.0</text>
<line x1="342.6" y1="573.3" x2="346" y2="573.3" stroke="#333" stroke-width="0.9"/>
<text x="339.2" y="577.1" font-size="10.5" text-anchor="end" fill="#111" font-weight="normal" textLength="15.4" lengthAdjust="spacingAndGlyphs">2.5</text>
<text x="391.25" y="596.9" font-size="10" text-anchor="middle" fill="#222" font-weight="normal" textLength="140.7" lengthAdjust="spacingAndGlyphs">Shear wave velocity (km/s)</text>
<rect x="96.1" y="398.9" width="44.7" height="16.5" fill="#fff"/>
<text x="100.3" y="410.1" font-size="10" text-anchor="start" fill="#f5b431" font-weight="normal" textLength="39.9" lengthAdjust="spacingAndGlyphs">1.15 km</text>
<rect x="245.1" y="436.9" width="44.9" height="16.5" fill="#fff"/>
<text x="250" y="448.2" font-size="10" text-anchor="start" fill="#4cb77c" font-weight="normal" textLength="38.8" lengthAdjust="spacingAndGlyphs">1.44 km</text>
<rect x="395.4" y="448.1" width="44.3" height="16.5" fill="#fff"/>
<text x="399.3" y="459.8" font-size="10" text-anchor="start" fill="#6a3d9c" font-weight="normal" textLength="40.4" lengthAdjust="spacingAndGlyphs">1.53 km</text>
<rect x="43.5" y="224.4" width="93.8" height="18.2" rx="2" fill="#fff" stroke="#d5d5d5" stroke-width="0.8"/>
<line x1="46.5" y1="233.4" x2="68.5" y2="233.4" stroke="#f5b431" stroke-width="2.3"/>
<text x="75.5" y="237.1" font-size="10.5" text-anchor="start" fill="#222" font-weight="normal" textLength="57.1" lengthAdjust="spacingAndGlyphs">KY15-03-01</text>
<rect x="192.6" y="224.4" width="93.9" height="18.2" rx="2" fill="#fff" stroke="#d5d5d5" stroke-width="0.8"/>
<line x1="195.6" y1="233.4" x2="217.6" y2="233.4" stroke="#4cb77c" stroke-width="2.3"/>
<text x="224.6" y="237.1" font-size="10.5" text-anchor="start" fill="#222" font-weight="normal" textLength="56.8" lengthAdjust="spacingAndGlyphs">KY14-02-01</text>
<rect x="342.6" y="224.4" width="78.2" height="18.2" rx="2" fill="#fff" stroke="#d5d5d5" stroke-width="0.8"/>
<line x1="345.6" y1="233.4" x2="367.6" y2="233.4" stroke="#6a3d9c" stroke-width="2.3"/>
<text x="374.6" y="237.1" font-size="10.5" text-anchor="start" fill="#222" font-weight="normal" textLength="42" lengthAdjust="spacingAndGlyphs">ZK20-02</text>
<rect x="141.1" y="249.5" width="29.5" height="22.3" fill="#cde4ea"/>
<rect x="141.1" y="271.8" width="29.5" height="5.2" fill="#d81f1f"/>
<rect x="141.1" y="277" width="29.5" height="8" fill="url(#ore)"/>
<rect x="141.1" y="285" width="29.5" height="3" fill="#d81f1f"/>
<rect x="141.1" y="288" width="29.5" height="7.5" fill="url(#ore)"/>
<rect x="141.1" y="295.5" width="29.5" height="4.5" fill="url(#ore)"/>
<rect x="141.1" y="300" width="29.5" height="2.5" fill="#d81f1f"/>
<rect x="141.1" y="302.5" width="29.5" height="1.7" fill="url(#ore)"/>
<rect x="141.1" y="304.2" width="29.5" height="14.4" fill="url(#ore)"/>
<rect x="141.1" y="318.6" width="29.5" height="12.1" fill="url(#ore)"/>
<rect x="141.1" y="330.7" width="29.5" height="2.7" fill="#d81f1f"/>
<rect x="141.1" y="333.4" width="29.5" height="3.2" fill="url(#ore)"/>
<rect x="141.1" y="336.6" width="29.5" height="11.4" fill="#cde4ea"/>
<rect x="141.1" y="348" width="29.5" height="25" fill="url(#slate)"/>
<rect x="141.1" y="373" width="29.5" height="11.4" fill="url(#qtz)"/>
<rect x="141.1" y="384.4" width="29.5" height="19.8" fill="url(#slate)"/>
<rect x="141.1" y="404.2" width="29.5" height="53.8" fill="url(#qtz)"/>
<rect x="141.1" y="458" width="29.5" height="9.2" fill="url(#slate)"/>
<line x1="141.1" y1="271.8" x2="170.6" y2="271.8" stroke="#3f7526" stroke-width="1.3"/>
<line x1="141.1" y1="277" x2="170.6" y2="277" stroke="#3f7526" stroke-width="1.3"/>
<line x1="141.1" y1="285" x2="170.6" y2="285" stroke="#3f7526" stroke-width="1.3"/>
<line x1="141.1" y1="288" x2="170.6" y2="288" stroke="#3f7526" stroke-width="1.3"/>
<line x1="141.1" y1="295.5" x2="170.6" y2="295.5" stroke="#3f7526" stroke-width="1.3"/>
<line x1="141.1" y1="300" x2="170.6" y2="300" stroke="#3f7526" stroke-width="1.3"/>
<line x1="141.1" y1="302.5" x2="170.6" y2="302.5" stroke="#3f7526" stroke-width="1.3"/>
<line x1="141.1" y1="304.2" x2="170.6" y2="304.2" stroke="#3f7526" stroke-width="1.3"/>
<line x1="141.1" y1="318.6" x2="170.6" y2="318.6" stroke="#3f7526" stroke-width="1.3"/>
<line x1="141.1" y1="330.7" x2="170.6" y2="330.7" stroke="#3f7526" stroke-width="1.3"/>
<line x1="141.1" y1="333.4" x2="170.6" y2="333.4" stroke="#3f7526" stroke-width="1.3"/>
<line x1="141.1" y1="336.6" x2="170.6" y2="336.6" stroke="#3f7526" stroke-width="1.3"/>
<line x1="141.1" y1="348" x2="170.6" y2="348" stroke="#3f7526" stroke-width="1.3"/>
<line x1="141.1" y1="373" x2="170.6" y2="373" stroke="#3f7526" stroke-width="1.3"/>
<line x1="141.1" y1="384.4" x2="170.6" y2="384.4" stroke="#3f7526" stroke-width="1.3"/>
<line x1="141.1" y1="404.2" x2="170.6" y2="404.2" stroke="#3f7526" stroke-width="1.3"/>
<line x1="141.1" y1="458" x2="170.6" y2="458" stroke="#3f7526" stroke-width="1.3"/>
<line x1="141.1" y1="467.2" x2="170.6" y2="467.2" stroke="#3f7526" stroke-width="1"/>
<line x1="141.6" y1="249.5" x2="141.6" y2="467.2" stroke="#3f7526" stroke-width="1"/>
<line x1="170.1" y1="249.5" x2="170.1" y2="467.2" stroke="#3f7526" stroke-width="0.8"/>
<line x1="140.6" y1="249" x2="171.1" y2="249" stroke="#8a8078" stroke-width="1"/>
<line x1="140.55" y1="248.5" x2="140.55" y2="467.2" stroke="#444" stroke-width="1.1"/>
<line x1="171" y1="249.5" x2="171" y2="467.2" stroke="#8e8e8e" stroke-width="0.9"/>
<rect x="127.7" y="467.9" width="57" height="19.5" fill="#fff"/>
<text x="156.2" y="480.6" font-size="10.5" text-anchor="middle" fill="#222" font-weight="bold" textLength="52" lengthAdjust="spacingAndGlyphs">1762.75 m</text>
<rect x="291.2" y="249.6" width="28.8" height="94.6" fill="url(#slate)"/>
<rect x="291.2" y="344.2" width="28.8" height="22.1" fill="url(#ore)"/>
<rect x="291.2" y="366.3" width="28.8" height="30.4" fill="#d81f1f"/>
<rect x="291.2" y="396.7" width="28.8" height="24.3" fill="url(#ore)"/>
<rect x="291.2" y="421" width="28.8" height="3.3" fill="#d81f1f"/>
<rect x="291.2" y="424.3" width="28.8" height="1.9" fill="url(#ore)"/>
<rect x="291.2" y="426.2" width="28.8" height="2.9" fill="#d81f1f"/>
<rect x="291.2" y="429.1" width="28.8" height="14.1" fill="url(#ore)"/>
<rect x="291.2" y="443.2" width="28.8" height="4.4" fill="#cde4ea"/>
<rect x="291.2" y="447.6" width="28.8" height="3.9" fill="url(#slate)"/>
<rect x="291.2" y="451.5" width="28.8" height="5.2" fill="#cde4ea"/>
<rect x="291.2" y="456.7" width="28.8" height="4.3" fill="url(#slate)"/>
<rect x="291.2" y="461" width="28.8" height="28.2" fill="#8bbdd0"/>
<rect x="291.2" y="489.2" width="28.8" height="20" fill="url(#slate)"/>
<line x1="291.2" y1="344.2" x2="320" y2="344.2" stroke="#3f7526" stroke-width="1.3"/>
<line x1="291.2" y1="366.3" x2="320" y2="366.3" stroke="#3f7526" stroke-width="1.3"/>
<line x1="291.2" y1="396.7" x2="320" y2="396.7" stroke="#3f7526" stroke-width="1.3"/>
<line x1="291.2" y1="421" x2="320" y2="421" stroke="#3f7526" stroke-width="1.3"/>
<line x1="291.2" y1="424.3" x2="320" y2="424.3" stroke="#3f7526" stroke-width="1.3"/>
<line x1="291.2" y1="426.2" x2="320" y2="426.2" stroke="#3f7526" stroke-width="1.3"/>
<line x1="291.2" y1="429.1" x2="320" y2="429.1" stroke="#3f7526" stroke-width="1.3"/>
<line x1="291.2" y1="443.2" x2="320" y2="443.2" stroke="#3f7526" stroke-width="1.3"/>
<line x1="291.2" y1="447.6" x2="320" y2="447.6" stroke="#3f7526" stroke-width="1.3"/>
<line x1="291.2" y1="451.5" x2="320" y2="451.5" stroke="#3f7526" stroke-width="1.3"/>
<line x1="291.2" y1="456.7" x2="320" y2="456.7" stroke="#3f7526" stroke-width="1.3"/>
<line x1="291.2" y1="461" x2="320" y2="461" stroke="#3f7526" stroke-width="1.3"/>
<line x1="291.2" y1="489.2" x2="320" y2="489.2" stroke="#3f7526" stroke-width="1.3"/>
<line x1="291.2" y1="509.2" x2="320" y2="509.2" stroke="#3f7526" stroke-width="1"/>
<line x1="291.7" y1="249.6" x2="291.7" y2="509.2" stroke="#3f7526" stroke-width="1"/>
<line x1="319.5" y1="249.6" x2="319.5" y2="509.2" stroke="#3f7526" stroke-width="0.8"/>
<line x1="290.7" y1="249.1" x2="320.5" y2="249.1" stroke="#8a8078" stroke-width="1"/>
<line x1="290.65" y1="248.6" x2="290.65" y2="509.2" stroke="#111" stroke-width="1.1"/>
<line x1="320.4" y1="249.6" x2="320.4" y2="509.2" stroke="#333" stroke-width="0.9"/>
<rect x="276.4" y="509.9" width="44.8" height="19.5" fill="#fff"/>
<rect x="321.2" y="513.2" width="13.2" height="16.2" fill="#fff"/>
<text x="305.4" y="522.6" font-size="10.5" text-anchor="middle" fill="#222" font-weight="bold" textLength="53" lengthAdjust="spacingAndGlyphs">2022.18 m</text>
<rect x="440.6" y="249.6" width="29.1" height="123" fill="url(#slate)"/>
<rect x="440.6" y="372.6" width="29.1" height="1.4" fill="#cde4ea"/>
<rect x="440.6" y="374" width="29.1" height="1.5" fill="url(#slate)"/>
<rect x="440.6" y="375.5" width="29.1" height="3" fill="#cde4ea"/>
<rect x="440.6" y="378.5" width="29.1" height="4.7" fill="url(#slate)"/>
<rect x="440.6" y="383.2" width="29.1" height="37.9" fill="#cde4ea"/>
<rect x="440.6" y="421.1" width="29.1" height="5.1" fill="#d81f1f"/>
<rect x="440.6" y="426.2" width="29.1" height="5.2" fill="url(#ore)"/>
<rect x="440.6" y="431.4" width="29.1" height="2.3" fill="#d81f1f"/>
<rect x="440.6" y="433.7" width="29.1" height="4.9" fill="url(#ore)"/>
<rect x="440.6" y="438.6" width="29.1" height="1.8" fill="#d81f1f"/>
<rect x="440.6" y="439.8" width="29.1" height="12.2" fill="url(#ore)"/>
<rect x="440.6" y="452" width="29.1" height="2.4" fill="#d81f1f"/>
<rect x="440.6" y="453.9" width="29.1" height="4.4" fill="url(#ore)"/>
<rect x="440.6" y="458.3" width="29.1" height="2.6" fill="#d81f1f"/>
<rect x="440.6" y="460.9" width="29.1" height="7.3" fill="url(#ore)"/>
<line x1="440.6" y1="372.6" x2="469.7" y2="372.6" stroke="#3f7526" stroke-width="1.3"/>
<line x1="440.6" y1="374" x2="469.7" y2="374" stroke="#3f7526" stroke-width="1.3"/>
<line x1="440.6" y1="375.5" x2="469.7" y2="375.5" stroke="#3f7526" stroke-width="1.3"/>
<line x1="440.6" y1="378.5" x2="469.7" y2="378.5" stroke="#3f7526" stroke-width="1.3"/>
<line x1="440.6" y1="383.2" x2="469.7" y2="383.2" stroke="#3f7526" stroke-width="1.3"/>
<line x1="440.6" y1="421.1" x2="469.7" y2="421.1" stroke="#3f7526" stroke-width="1.3"/>
<line x1="440.6" y1="426.2" x2="469.7" y2="426.2" stroke="#3f7526" stroke-width="1.3"/>
<line x1="440.6" y1="431.4" x2="469.7" y2="431.4" stroke="#3f7526" stroke-width="1.3"/>
<line x1="440.6" y1="433.7" x2="469.7" y2="433.7" stroke="#3f7526" stroke-width="1.3"/>
<line x1="440.6" y1="438.6" x2="469.7" y2="438.6" stroke="#3f7526" stroke-width="1.3"/>
<line x1="440.6" y1="439.8" x2="469.7" y2="439.8" stroke="#3f7526" stroke-width="1.3"/>
<line x1="440.6" y1="452" x2="469.7" y2="452" stroke="#3f7526" stroke-width="1.3"/>
<line x1="440.6" y1="453.9" x2="469.7" y2="453.9" stroke="#3f7526" stroke-width="1.3"/>
<line x1="440.6" y1="458.3" x2="469.7" y2="458.3" stroke="#3f7526" stroke-width="1.3"/>
<line x1="440.6" y1="460.9" x2="469.7" y2="460.9" stroke="#3f7526" stroke-width="1.3"/>
<line x1="440.6" y1="468.2" x2="469.7" y2="468.2" stroke="#3f7526" stroke-width="1"/>
<line x1="441.1" y1="249.6" x2="441.1" y2="468.2" stroke="#3f7526" stroke-width="1"/>
<line x1="469.2" y1="249.6" x2="469.2" y2="468.2" stroke="#3f7526" stroke-width="0.8"/>
<line x1="440.1" y1="249.1" x2="470.2" y2="249.1" stroke="#8a8078" stroke-width="1"/>
<line x1="440.05" y1="248.6" x2="440.05" y2="468.2" stroke="#555" stroke-width="1.1"/>
<line x1="470.1" y1="249.6" x2="470.1" y2="468.2" stroke="#8e8e8e" stroke-width="0.9"/>
<rect x="427.1" y="468.9" width="57.4" height="19.5" fill="#fff"/>
<text x="455.8" y="481.6" font-size="10.5" text-anchor="middle" fill="#222" font-weight="bold" textLength="52.4" lengthAdjust="spacingAndGlyphs">1775.40 m</text>
<rect x="476.3" y="248.3" width="27.2" height="18.3" fill="#cde4ea" stroke="#333" stroke-width="0.8"/>
<text x="507.6" y="261" font-size="11" text-anchor="start" fill="#333" font-weight="normal">dolomite</text>
<rect x="476.3" y="284.3" width="27.2" height="17.9" fill="url(#slateL)" stroke="#333" stroke-width="0.8"/>
<text x="507.6" y="296.6" font-size="11" text-anchor="start" fill="#333" font-weight="normal">slate</text>
<rect x="476.3" y="320.4" width="27.2" height="18" fill="#d81f1f" stroke="#333" stroke-width="0.8"/>
<text x="507.6" y="333.3" font-size="11" text-anchor="start" fill="#333" font-weight="normal">magnetite</text>
<rect x="476.3" y="357.6" width="27.2" height="17.8" fill="url(#oreL)" stroke="#333" stroke-width="0.8"/>
<text x="507.6" y="364.6" font-size="11" text-anchor="start" fill="#333" font-weight="normal">ore-bearing</text>
<text x="507.6" y="377.2" font-size="11" text-anchor="start" fill="#333" font-weight="normal">dolomite</text>
<rect x="476.3" y="393.7" width="27.2" height="17.7" fill="url(#qtzL)" stroke="#333" stroke-width="0.8"/>
<text x="507.6" y="399.2" font-size="11" text-anchor="start" fill="#333" font-weight="normal">quartz</text>
<text x="507.6" y="412.5" font-size="11" text-anchor="start" fill="#333" font-weight="normal">sandstone</text>
<line x1="640.3" y1="248.6" x2="640.3" y2="573.1" stroke="#d2d2d2" stroke-width="1"/>
<line x1="661.38" y1="248.6" x2="661.38" y2="573.1" stroke="#d2d2d2" stroke-width="1"/>
<line x1="703.52" y1="248.6" x2="703.52" y2="573.1" stroke="#d2d2d2" stroke-width="1"/>
<line x1="724.6" y1="248.6" x2="724.6" y2="573.1" stroke="#d2d2d2" stroke-width="1"/>
<line x1="626.4" y1="313.5" x2="731.0" y2="313.5" stroke="#d2d2d2" stroke-width="1"/>
<line x1="626.4" y1="378.4" x2="731.0" y2="378.4" stroke="#d2d2d2" stroke-width="1"/>
<line x1="626.4" y1="443.3" x2="731.0" y2="443.3" stroke="#d2d2d2" stroke-width="1"/>
<line x1="626.4" y1="508.2" x2="731.0" y2="508.2" stroke="#d2d2d2" stroke-width="1"/>
<line x1="682.45" y1="248.6" x2="682.45" y2="573.1" stroke="#e3191c" stroke-width="1.2" stroke-dasharray="3.8 1.5"/>
<path d="M626.5,248.5 C628.75,249.33 634.18,251.12 640,253.5 C645.82,255.88 654.75,259.72 661.4,262.8 C668.05,265.88 675.13,269.3 679.9,272 C684.67,274.7 686.92,276.63 690,279 C693.08,281.37 695.9,283.7 698.4,286.2 C700.9,288.7 703.03,291.53 705,294 C706.97,296.47 708.57,298.3 710.2,301 C711.83,303.7 713.27,306.48 714.8,310.2 C716.33,313.92 718.42,319.15 719.4,323.3 C720.38,327.45 720.7,330.93 720.7,335.1 C720.7,339.27 719.87,343.63 719.4,348.3 C718.93,352.97 718.92,358.43 717.9,363.1 C716.88,367.77 714.93,372.13 713.3,376.3 C711.67,380.47 709.85,384.17 708.1,388.1 C706.35,392.03 704.73,395.42 702.8,399.9 C700.87,404.38 698.38,410.83 696.5,415 C694.62,419.17 693.15,421.15 691.5,424.9 C689.85,428.65 687.98,432.83 686.6,437.5 C685.22,442.17 684.1,449.27 683.2,452.9 C682.3,456.53 682.03,456.1 681.2,459.3 C680.37,462.5 679.27,467.45 678.2,472.1 C677.13,476.75 675.8,481.8 674.8,487.2 C673.8,492.6 672.77,497.88 672.2,504.5 C671.63,511.12 671.62,519.72 671.4,526.9 C671.18,534.08 670.9,539.9 670.9,547.6 C670.9,555.3 671.32,568.85 671.4,573.1" fill="none" stroke="#f5b431" stroke-width="2.5" stroke-linejoin="round"/>
<path d="M626.5,248.5 C628.75,249.42 634.18,251.55 640,254 C645.82,256.45 654.75,260.13 661.4,263.2 C668.05,266.27 676.15,270.45 679.9,272.4 C683.65,274.35 680.82,272.53 683.9,274.9 C686.98,277.27 694.02,282.25 698.4,286.6 C702.78,290.95 707.37,296.63 710.2,301 C713.03,305.37 714.3,309.08 715.4,312.8 C716.5,316.52 716.68,319.58 716.8,323.3 C716.92,327.02 716.77,330.93 716.1,335.1 C715.43,339.27 713.92,343.63 712.8,348.3 C711.68,352.97 710.95,358.43 709.4,363.1 C707.85,367.77 705.58,372.13 703.5,376.3 C701.42,380.47 698.98,384.17 696.9,388.1 C694.82,392.03 692.97,395.42 691,399.9 C689.03,404.38 686.57,411.33 685.1,415 C683.63,418.67 683.18,419.27 682.2,421.9 C681.22,424.53 680.18,427.85 679.2,430.8 C678.22,433.75 677.2,436.48 676.3,439.6 C675.4,442.72 674.55,446.22 673.8,449.5 C673.05,452.78 672.45,455.53 671.8,459.3 C671.15,463.07 670.4,467.45 669.9,472.1 C669.4,476.75 669.27,481.23 668.8,487.2 C668.33,493.17 667.25,502.15 667.1,507.9 C666.95,513.65 667.68,515.95 667.9,521.7 C668.12,527.45 668.1,536.07 668.4,542.4 C668.7,548.73 669.35,554.58 669.7,559.7 C670.05,564.82 670.37,570.87 670.5,573.1" fill="none" stroke="#4cb77c" stroke-width="2.5" stroke-linejoin="round"/>
<path d="M626.5,248.5 C628.75,249.58 634.18,252.42 640,255 C645.82,257.58 654.75,260.85 661.4,264 C668.05,267.15 676.32,271.92 679.9,273.9 C683.48,275.88 680.58,273.9 682.9,275.9 C685.22,277.9 690.98,283.07 693.8,285.9 C696.62,288.73 698.17,290.6 699.8,292.9 C701.43,295.2 702.3,296.38 703.6,299.7 C704.9,303.02 706.72,308.87 707.6,312.8 C708.48,316.73 708.8,319.35 708.9,323.3 C709,327.25 708.63,332.33 708.2,336.5 C707.77,340.67 706.87,343.87 706.3,348.3 C705.73,352.73 705.6,358.43 704.8,363.1 C704,367.77 702.92,371.92 701.5,376.3 C700.08,380.68 697.83,385.03 696.3,389.4 C694.77,393.77 693.58,398.23 692.3,402.5 C691.02,406.77 689.72,411.27 688.6,415 C687.48,418.73 686.62,421.15 685.6,424.9 C684.58,428.65 683.4,433.73 682.5,437.5 C681.6,441.27 681,444.18 680.2,447.5 C679.4,450.82 678.6,453.62 677.7,457.4 C676.8,461.18 675.72,464.65 674.8,470.2 C673.88,475.75 672.97,484.42 672.2,490.7 C671.43,496.98 670.72,501.87 670.2,507.9 C669.68,513.93 669.33,520.57 669.1,526.9 C668.87,533.23 668.57,539.87 668.8,545.9 C669.03,551.93 670.07,558.57 670.5,563.1 C670.93,567.63 671.25,571.43 671.4,573.1" fill="none" stroke="#6a3d9c" stroke-width="2.5" stroke-linejoin="round"/>
<line x1="682.3" y1="421.3" x2="732.5" y2="421.3" stroke="#e3191c" stroke-width="1.3" stroke-dasharray="3.5 1.8"/>
<text x="734.2" y="425.2" font-size="11" text-anchor="start" fill="#4cb77c" font-weight="normal" textLength="45" lengthAdjust="spacingAndGlyphs">1.34 km</text>
<line x1="682.3" y1="436.8" x2="732.5" y2="436.8" stroke="#e3191c" stroke-width="1.3" stroke-dasharray="3.5 1.8"/>
<text x="734.2" y="440.7" font-size="11" text-anchor="start" fill="#6a3d9c" font-weight="normal" textLength="45" lengthAdjust="spacingAndGlyphs">1.45 km</text>
<line x1="682.3" y1="452.4" x2="732.5" y2="452.4" stroke="#e3191c" stroke-width="1.3" stroke-dasharray="3.5 1.8"/>
<text x="734.2" y="456.3" font-size="11" text-anchor="start" fill="#f5b431" font-weight="normal" textLength="45" lengthAdjust="spacingAndGlyphs">1.58 km</text>
<line x1="626.4" y1="248.6" x2="731.0" y2="248.6" stroke="#333" stroke-width="1"/>
<line x1="731.0" y1="248.6" x2="731.0" y2="573.1" stroke="#555" stroke-width="1"/>
<line x1="626.4" y1="248.1" x2="626.4" y2="573.6" stroke="#222" stroke-width="1.1"/>
<line x1="625.9" y1="573.1" x2="731.5" y2="573.1" stroke="#111" stroke-width="1.1"/>
<line x1="640.3" y1="573.1" x2="640.3" y2="570.5" stroke="#222" stroke-width="0.9"/>
<text x="640.3" y="583.9" font-size="10.5" text-anchor="middle" fill="#111" font-weight="normal" textLength="15.2" lengthAdjust="spacingAndGlyphs">2.2</text>
<line x1="661.38" y1="573.1" x2="661.38" y2="570.5" stroke="#222" stroke-width="0.9"/>
<text x="661.38" y="583.9" font-size="10.5" text-anchor="middle" fill="#111" font-weight="normal" textLength="15.2" lengthAdjust="spacingAndGlyphs">2.5</text>
<line x1="682.45" y1="573.1" x2="682.45" y2="570.5" stroke="#222" stroke-width="0.9"/>
<text x="682.45" y="583.9" font-size="10.5" text-anchor="middle" fill="#111" font-weight="normal" textLength="15.2" lengthAdjust="spacingAndGlyphs">2.8</text>
<line x1="703.52" y1="573.1" x2="703.52" y2="570.5" stroke="#222" stroke-width="0.9"/>
<text x="703.52" y="583.9" font-size="10.5" text-anchor="middle" fill="#111" font-weight="normal" textLength="15.2" lengthAdjust="spacingAndGlyphs">3.1</text>
<line x1="724.6" y1="573.1" x2="724.6" y2="570.5" stroke="#222" stroke-width="0.9"/>
<text x="724.6" y="583.9" font-size="10.5" text-anchor="middle" fill="#111" font-weight="normal" textLength="15.2" lengthAdjust="spacingAndGlyphs">3.4</text>
<line x1="626.4" y1="248.6" x2="629.8" y2="248.6" stroke="#333" stroke-width="0.9"/>
<text x="623" y="252.4" font-size="10.5" text-anchor="end" fill="#111" font-weight="normal" textLength="15.4" lengthAdjust="spacingAndGlyphs">0.0</text>
<line x1="626.4" y1="313.5" x2="629.8" y2="313.5" stroke="#333" stroke-width="0.9"/>
<text x="623" y="317.3" font-size="10.5" text-anchor="end" fill="#111" font-weight="normal" textLength="15.4" lengthAdjust="spacingAndGlyphs">0.5</text>
<line x1="626.4" y1="378.4" x2="629.8" y2="378.4" stroke="#333" stroke-width="0.9"/>
<text x="623" y="382.2" font-size="10.5" text-anchor="end" fill="#111" font-weight="normal" textLength="15.4" lengthAdjust="spacingAndGlyphs">1.0</text>
<line x1="626.4" y1="443.3" x2="629.8" y2="443.3" stroke="#333" stroke-width="0.9"/>
<text x="623" y="447.1" font-size="10.5" text-anchor="end" fill="#111" font-weight="normal" textLength="15.4" lengthAdjust="spacingAndGlyphs">1.5</text>
<line x1="626.4" y1="508.2" x2="629.8" y2="508.2" stroke="#333" stroke-width="0.9"/>
<text x="623" y="512" font-size="10.5" text-anchor="end" fill="#111" font-weight="normal" textLength="15.4" lengthAdjust="spacingAndGlyphs">2.0</text>
<line x1="626.4" y1="573.1" x2="629.8" y2="573.1" stroke="#333" stroke-width="0.9"/>
<text x="623" y="576.9" font-size="10.5" text-anchor="end" fill="#111" font-weight="normal" textLength="15.4" lengthAdjust="spacingAndGlyphs">2.5</text>
<text x="678.7" y="596.9" font-size="10" text-anchor="middle" fill="#222" font-weight="normal" textLength="140.7" lengthAdjust="spacingAndGlyphs">Shear wave velocity (km/s)</text>
<text x="601.2" y="410.85" font-size="10" text-anchor="middle" fill="#222" transform="rotate(-90 601.2 410.85)" textLength="71" lengthAdjust="spacingAndGlyphs">Depth (km)</text>
<rect x="736" y="250.9" width="54.2" height="42.6" rx="2" fill="#fff" stroke="#d5d5d5" stroke-width="0.8"/>
<line x1="739.3" y1="259" x2="750.8" y2="259" stroke="#f5b431" stroke-width="2.2"/>
<text x="752.5" y="262.6" font-size="10" text-anchor="start" fill="#222" font-weight="normal" textLength="33.8" lengthAdjust="spacingAndGlyphs">SYN-01</text>
<line x1="739.3" y1="271.5" x2="750.8" y2="271.5" stroke="#4cb77c" stroke-width="2.2"/>
<text x="752.5" y="275.1" font-size="10" text-anchor="start" fill="#222" font-weight="normal" textLength="33.8" lengthAdjust="spacingAndGlyphs">SYN-02</text>
<line x1="739.3" y1="284.3" x2="750.8" y2="284.3" stroke="#6a3d9c" stroke-width="2.2"/>
<text x="752.5" y="287.9" font-size="10" text-anchor="start" fill="#222" font-weight="normal" textLength="33.8" lengthAdjust="spacingAndGlyphs">SYN-03</text>
</svg></body></html>
